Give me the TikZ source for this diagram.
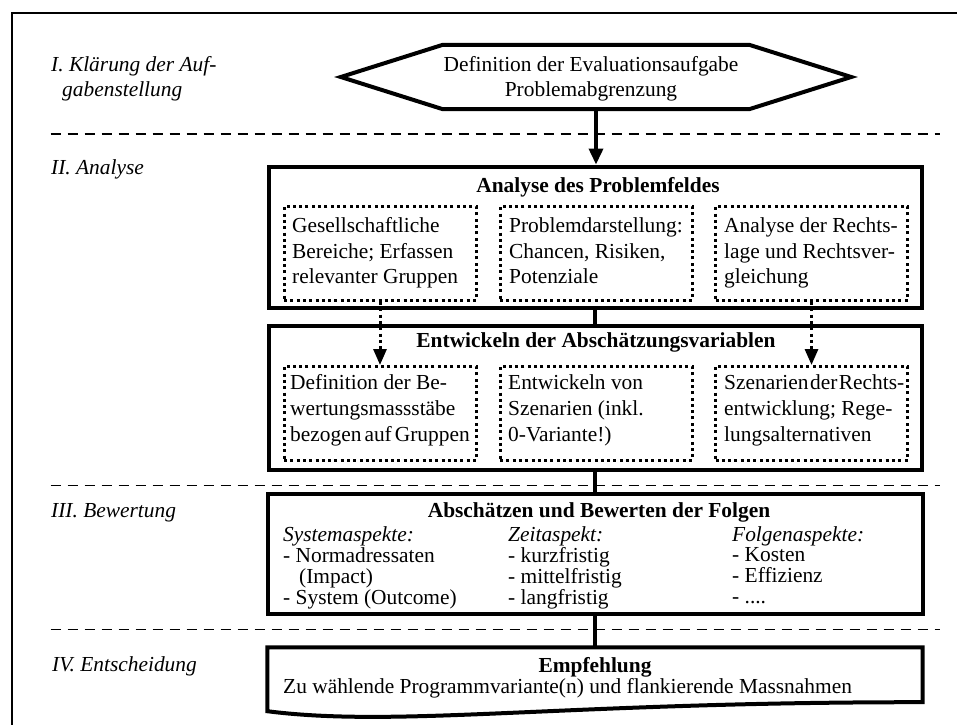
\documentclass[tikz,border=0pt]{standalone}
\usepackage{fontspec}
\setmainfont{Liberation Serif}
\usetikzlibrary{arrows.meta,calc}
\newcommand{\fsmain}{\fontsize{21.4}{25.8}\selectfont}
\newcommand{\fstight}{\fontsize{21.4}{20.6}\selectfont}
\newcommand{\fslabel}{\fontsize{21.4}{25}\selectfont}

\begin{document}
\begin{tikzpicture}[x=1pt,y=-1pt,line join=miter,
  lbl/.style={anchor=base west,inner sep=0pt,font=\fslabel\itshape},
  ttl/.style={anchor=base,inner sep=0pt,font=\fsmain\bfseries},
  body/.style={anchor=base west,inner sep=0pt,font=\fsmain},
  tightbody/.style={anchor=base west,inner sep=0pt,font=\fstight},
  bigbox/.style={draw,line width=4pt,minimum width=653pt,inner sep=0pt},
  dotbox/.style={draw,line width=3pt,dash pattern=on 3pt off 3.3pt,
    minimum width=192pt,minimum height=94pt,inner sep=0pt},
  phaseline/.style={line width=1.8pt,dash pattern=on 10pt off 7pt},
  link/.style={line width=3.5pt},
  arr/.style={line width=3.5pt,-{Triangle[width=14pt,length=16pt]}},
  dotarr/.style={line width=3pt,dash pattern=on 3pt off 3.3pt,
    -{Triangle[width=13pt,length=16pt]}},
]
\useasboundingbox (0,0) rectangle (957,725);

% outer frame
\draw[line width=2pt] (957,12.7) -- (11.7,12.7) -- (11.7,725);

% phase separators
\foreach \yy in {134,485.5,629.5}
  \draw[phaseline] (50.7,\yy) -- (940,\yy);

% phase labels
\node[lbl] (ph1) at (51,71) {\begin{tabular}[t]{@{}l@{}}I. Klärung der Auf-\\\hspace*{11pt}gabenstellung\end{tabular}};
\node[lbl] (ph2) at (51,174) {II. Analyse};
\node[lbl] (ph3) at (51,517) {III. Bewertung};
\node[lbl] (ph4) at (52,671) {IV. Entscheidung};

% task definition (hexagon)
\node[minimum width=306pt,minimum height=64pt,inner sep=0pt] (task) at (596,77) {};
\draw[line width=4pt] (task.north west) -- (task.north east) -- ($(task.east)+(102,0)$)
  -- (task.south east) -- (task.south west) -- ($(task.west)+(-102,0)$) -- cycle;
\node[body,anchor=base] (tasktext) at (591,71)
  {\begin{tabular}[t]{@{}c@{}}Definition der Evaluationsaufgabe\\Problemabgrenzung\end{tabular}};

% analysis of the problem field
\node[bigbox,minimum height=141.5pt] (ana) at (595,237.3) {};
\node[ttl] (anat) at (598,192) {Analyse des Problemfeldes};
\node[dotbox] (a1) at (380,253.5) {};
\node[dotbox] (b1) at (596,253.5) {};
\node[dotbox] (c1) at (811.5,253.5) {};
\node[body] (a1t) at (292,232.3) {\begin{tabular}[t]{@{}l@{}}Gesellschaftliche\\Bereiche; Erfassen\\relevanter Gruppen\end{tabular}};
\node[body] (b1t) at (509,232.3) {\begin{tabular}[t]{@{}l@{}}Problemdarstellung:\\Chancen, Risiken,\\Potenziale\end{tabular}};
\node[body] (c1t) at (724,232.3) {\begin{tabular}[t]{@{}l@{}}Analyse der Rechts-\\lage und Rechtsver-\\gleichung\end{tabular}};

% estimation variables
\node[bigbox,minimum height=144pt] (var) at (595,397.5) {};
\node[ttl] (vart) at (596,347) {Entwickeln der Abschätzungsvariablen};
\node[dotbox] (a2) at (380,413.5) {};
\node[dotbox] (b2) at (596,413.5) {};
\node[dotbox] (c2) at (811.5,413.5) {};
\node[body] (a2t) at (290,389.5) {\begin{tabular}[t]{@{}l@{}}Definition der Be-\\wertungsmassstäbe\\bezogen\hspace{3pt}auf\hspace{3pt}Gruppen\end{tabular}};
\node[body] (b2t) at (508,389.5) {\begin{tabular}[t]{@{}l@{}}Entwickeln von\\Szenarien (inkl.\\0-Variante!)\end{tabular}};
\node[body] (c2t) at (724,389.5) {\begin{tabular}[t]{@{}l@{}}Szenarien\hspace{1.5pt}der\hspace{1.5pt}Rechts-\\entwicklung; Rege-\\lungsalternativen\end{tabular}};

% assessment
\node[bigbox,minimum width=655pt,minimum height=119.7pt] (bew) at (595,554.3) {};
\node[ttl] (bewt) at (599,517) {Abschätzen und Bewerten der Folgen};
\node[tightbody] (sys) at (283,541) {\begin{tabular}[t]{@{}l@{}}\textit{Systemaspekte:}\\- Normadressaten\\\hspace*{16pt}(Impact)\\- System (Outcome)\end{tabular}};
\node[tightbody] (zeit) at (508,541) {\begin{tabular}[t]{@{}l@{}}\textit{Zeitaspekt:}\\- kurzfristig\\- mittelfristig\\- langfristig\end{tabular}};
\node[tightbody] (folg) at (732,541) {\begin{tabular}[t]{@{}l@{}}\textit{Folgenaspekte:}\\- Kosten\\- Effizienz\\- ....\end{tabular}};

% recommendation (document shape)
\node[minimum width=655pt,minimum height=57.5pt,inner sep=0pt] (emp) at (595,676.25) {};
\draw[line width=4pt] (emp.north west) -- (emp.north east) -- ($(emp.south east)+(0,-3)$)
  .. controls (560,702) and (400,728) .. ($(emp.south west)+(0,6)$) -- cycle;
\node[ttl] (empt) at (595,672) {Empfehlung};
\node[body] (empb) at (283,693) {Zu wählende Programmvariante(n) und flankierende Massnahmen};

% connectors
\draw[arr] (task.south) -- (task.south |- ana.north);
\draw[link] (ana.south) -- (var.north);
\draw[link] (var.south) -- (bew.north);
\draw[link] (bew.south) -- (emp.north);
\draw[dotarr] (a1.south) -- (a2.north);
\draw[dotarr] (c1.south) -- (c2.north);
\end{tikzpicture}
\end{document}
